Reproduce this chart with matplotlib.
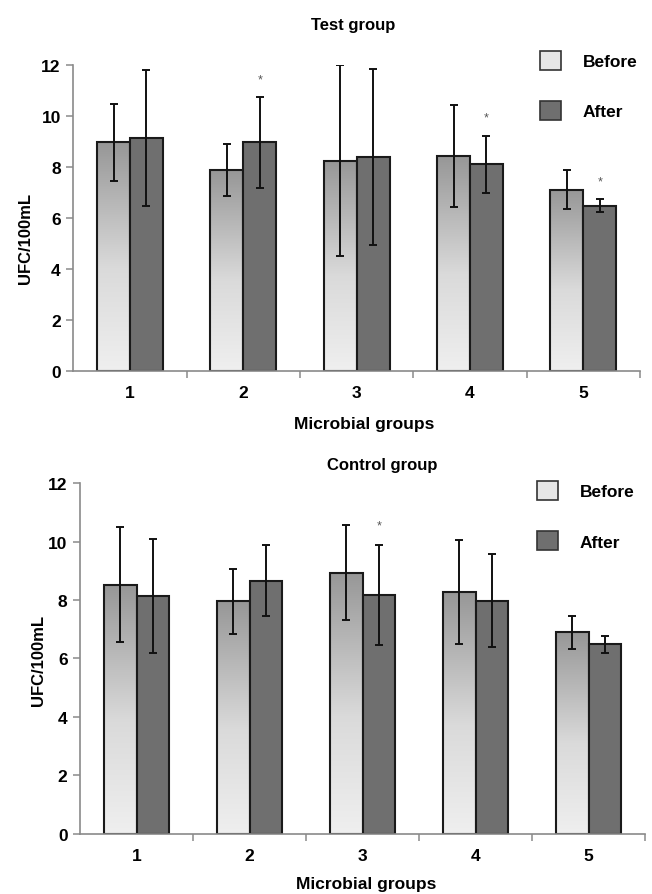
#!/usr/bin/env python3
"""Before/after microbial counts for the test and control groups (two stacked bar panels)."""

from __future__ import annotations

import numpy as np

import matplotlib as mpl
import matplotlib.pyplot as plt
from matplotlib.colors import LinearSegmentedColormap
from matplotlib.patches import Patch


mpl.rcParams.update(
    {
        "font.family": ["Liberation Sans", "DejaVu Sans"],
        "axes.spines.right": False,
        "axes.spines.top": False,
    }
)

NARROW = ["Liberation Sans Narrow", "Liberation Sans", "DejaVu Sans"]

groups = ["1", "2", "3", "4", "5"]

test_before = [8.95, 7.88, 8.24, 8.43, 7.10]
test_before_sd = [1.52, 1.02, 3.74, 2.00, 0.77]
test_after = [9.12, 8.95, 8.38, 8.10, 6.47]
test_after_sd = [2.67, 1.78, 3.45, 1.12, 0.25]
test_star = [False, True, False, True, True]

control_before = [8.53, 7.96, 8.94, 8.28, 6.90]
control_before_sd = [1.98, 1.11, 1.62, 1.79, 0.56]
control_after = [8.13, 8.67, 8.17, 7.98, 6.48]
control_after_sd = [1.95, 1.21, 1.70, 1.60, 0.29]
control_star = [False, False, True, False, False]

yticks = [0, 2, 4, 6, 8, 10, 12]

PALETTE = {
    "axis": "#8a8a8a",
    "edge": "#1a1a1a",
    "after": "#6f6f6f",
    "before_leg": "#e6e6e6",
    "star": "#555555",
}

GRAD = LinearSegmentedColormap.from_list(
    "before_grad", [(0.0, "#efefef"), (0.45, "#dadada"), (1.0, "#979797")]
)


def gradient_bar(ax, bar):
    x0, y0 = bar.get_x(), bar.get_y()
    w, h = bar.get_width(), bar.get_height()
    grad = np.linspace(0, 1, 256).reshape(-1, 1)
    im = ax.imshow(
        grad,
        cmap=GRAD,
        origin="lower",
        extent=(x0, x0 + w, y0, y0 + h),
        aspect="auto",
        zorder=1.9,
    )
    im.set_clip_path(bar)


def panel(ax, before, before_sd, after, after_sd, star, title, title_xy, xlab_xy, ylab_xy, leg_xy):
    x = np.arange(1, len(groups) + 1)
    width = 0.29
    b1 = ax.bar(x - width / 2, before, width, facecolor="none", edgecolor=PALETTE["edge"], linewidth=1.5, zorder=2)
    for bar in b1:
        gradient_bar(ax, bar)
    ax.bar(x + width / 2, after, width, facecolor=PALETTE["after"], edgecolor=PALETTE["edge"], linewidth=1.5, zorder=2)

    ekw = dict(fmt="none", ecolor="#111111", elinewidth=1.4, capsize=3.2, capthick=1.4, zorder=3)
    ax.errorbar(x - width / 2, before, yerr=before_sd, **ekw)
    ax.errorbar(x + width / 2, after, yerr=after_sd, **ekw)

    for xi, m, s, flag in zip(x, after, after_sd, star):
        if flag:
            ax.text(xi + width / 2, m + s + 0.7, "*", ha="center", va="center", fontsize=9, color=PALETTE["star"])

    ax.set_xlim(0.5, 5.5)
    ax.set_ylim(0, 12)
    ax.set_yticks(yticks)
    ax.set_yticklabels([str(t) for t in yticks], fontsize=12.5, fontweight="bold")
    ax.set_xticks(x)
    ax.set_xticklabels(groups, fontsize=12.5, fontweight="bold")
    ax.set_xticks(np.arange(1.5, 6.0, 1.0), minor=True)
    ax.tick_params(axis="x", which="major", length=0, pad=10)
    ax.tick_params(axis="x", which="minor", length=5, width=1.1, color=PALETTE["axis"], direction="out")
    ax.tick_params(axis="y", length=5, width=1.1, color=PALETTE["axis"], pad=4)
    for side in ("left", "bottom"):
        ax.spines[side].set_color(PALETTE["axis"])
        ax.spines[side].set_linewidth(1.2)

    ax.set_xlabel("Microbial groups", fontsize=12.5, fontweight="bold", family=NARROW, va="center")
    ax.xaxis.set_label_coords(*xlab_xy)
    ax.set_ylabel("UFC/100mL", fontsize=12, fontweight="bold", va="center")
    ax.yaxis.set_label_coords(*ylab_xy)
    ax.text(*title_xy, title, transform=ax.transAxes, ha="center", va="center",
            fontsize=12, fontweight="bold", family=NARROW)

    handles = [
        Patch(facecolor=PALETTE["before_leg"], edgecolor="#333333", linewidth=1.2, label="Before"),
        Patch(facecolor=PALETTE["after"], edgecolor="#333333", linewidth=1.2, label="After"),
    ]
    ax.legend(
        handles=handles,
        loc="upper left",
        bbox_to_anchor=leg_xy,
        frameon=False,
        borderpad=0,
        borderaxespad=0,
        handlelength=1.2,
        handleheight=1.3,
        handletextpad=1.25,
        labelspacing=1.8,
        prop={"family": NARROW, "weight": "bold", "size": 12.5},
    )


def main() -> None:
    fig = plt.figure(figsize=(6.52, 8.95), dpi=100)
    ax_top = fig.add_axes([0.1124, 0.5847, 0.8692, 0.3419])
    ax_bot = fig.add_axes([0.1227, 0.0674, 0.8666, 0.3915])

    panel(ax_top, test_before, test_before_sd, test_after, test_after_sd, test_star,
          "Test group", (0.4936, 1.13), (0.513, -0.174), (-0.085, 0.437), (0.8236, 1.045))
    panel(ax_bot, control_before, control_before_sd, control_after, control_after_sd, control_star,
          "Control group", (0.5345, 1.055), (0.506, -0.1435), (-0.073, 0.4986), (0.809, 1.006))

    fig.savefig("out.png", dpi=100)
    plt.close(fig)


if __name__ == "__main__":
    main()
